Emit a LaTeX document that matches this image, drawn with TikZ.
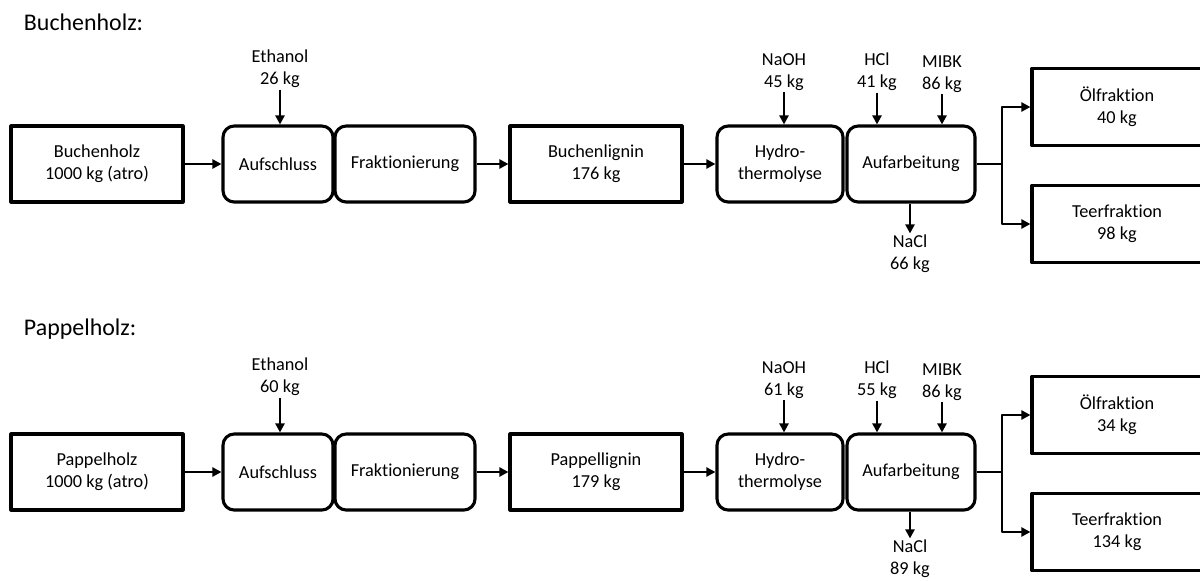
\documentclass[tikz,border=0pt]{standalone}
\usepackage{fontspec}
\setmainfont[Ligatures=NoCommon]{Carlito}
\usetikzlibrary{arrows.meta}
\begin{document}
\begin{tikzpicture}[x=0.025cm, y=-0.025cm, font=\fontsize{13}{15.6}\selectfont,
  line join=round, >={Triangle[length=6.5pt,width=6.5pt]},
  flow/.style={line width=2pt},
  box/.style={draw, line width=2.2pt, minimum height=1.9cm, inner sep=0pt, align=center},
  proc/.style={box, rounded corners=0.28cm},
  stream/.style={align=center, inner sep=1pt},
  head/.style={anchor=west, font=\fontsize{17}{20}\selectfont}]
\useasboundingbox (0,0) rectangle (1200,580);
\clip (0,0) rectangle (1200,580);
% Buchenholz
\node[head] (bhead) at (19,22) {Buchenholz:};
\node[box, minimum width=4.3cm] (bholz) at (97,164) {Buchenholz\\1000 kg (atro)};
\node[proc, minimum width=2.75cm] (baufs) at (278,164) {Aufschluss};
\node[proc, minimum width=3.5cm] (bfrak) at (405,164) {Fraktionierung};
\node[box, minimum width=4.3cm] (blig) at (596,164) {Buchenlignin\\176 kg};
\node[proc, minimum width=3.15cm] (bhyd) at (780,164) {Hydro-\\thermolyse};
\node[proc, minimum width=3.2cm] (bauf) at (911,164) {Aufarbeitung};
\node[box, minimum width=4.25cm, minimum height=1.925cm] (boel) at (1117,107) {Ölfraktion\\40 kg};
\node[box, minimum width=4.25cm, minimum height=1.925cm] (bteer) at (1117,224) {Teerfraktion\\98 kg};
\node[stream] (beth) at (280,69) {Ethanol\\26 kg};
\node[stream] (bnaoh) at (784,72) {NaOH\\45 kg};
\node[stream] (bhcl) at (877,72) {HCl\\41 kg};
\node[stream] (bmibk) at (942,74) {MIBK\\86 kg};
\node[stream] (bnacl) at (910,254) {NaCl\\66 kg};
\coordinate (bsplit) at (1002,164);
\draw[flow, ->] (bholz) -- (baufs);
\draw[flow, ->] (bfrak) -- (blig);
\draw[flow, ->] (blig) -- (bhyd);
\draw[flow, ->] (beth) -- (beth |- baufs.north);
\draw[flow, ->] (bnaoh) -- (bnaoh |- bhyd.north);
\draw[flow, ->] (bhcl) -- (bhcl |- bauf.north);
\draw[flow, ->] (bmibk) -- (bmibk |- bauf.north);
\draw[flow, ->] (bauf.south -| bnacl) -- (bnacl);
\draw[flow] (bauf.east) -- (bsplit);
\draw[flow, ->] (bsplit) |- (boel.west);
\draw[flow, ->] (bsplit) |- (bteer.west);
% Pappelholz
\node[head] (phead) at (19,329) {Pappelholz:};
\node[box, minimum width=4.3cm] (pholz) at (97,472) {Pappelholz\\1000 kg (atro)};
\node[proc, minimum width=2.75cm] (paufs) at (278,472) {Aufschluss};
\node[proc, minimum width=3.5cm] (pfrak) at (405,472) {Fraktionierung};
\node[box, minimum width=4.3cm] (plig) at (596,472) {Pappellignin\\179 kg};
\node[proc, minimum width=3.15cm] (phyd) at (780,472) {Hydro-\\thermolyse};
\node[proc, minimum width=3.2cm] (pauf) at (911,472) {Aufarbeitung};
\node[box, minimum width=4.25cm, minimum height=1.925cm] (poel) at (1117,415) {Ölfraktion\\34 kg};
\node[box, minimum width=4.25cm, minimum height=1.925cm] (pteer) at (1117,532) {Teerfraktion\\134 kg};
\node[stream] (peth) at (280,377) {Ethanol\\60 kg};
\node[stream] (pnaoh) at (784,380) {NaOH\\61 kg};
\node[stream] (phcl) at (877,380) {HCl\\55 kg};
\node[stream] (pmibk) at (942,382) {MIBK\\86 kg};
\node[stream] (pnacl) at (910,559) {NaCl\\89 kg};
\coordinate (psplit) at (1002,472);
\draw[flow, ->] (pholz) -- (paufs);
\draw[flow, ->] (pfrak) -- (plig);
\draw[flow, ->] (plig) -- (phyd);
\draw[flow, ->] (peth) -- (peth |- paufs.north);
\draw[flow, ->] (pnaoh) -- (pnaoh |- phyd.north);
\draw[flow, ->] (phcl) -- (phcl |- pauf.north);
\draw[flow, ->] (pmibk) -- (pmibk |- pauf.north);
\draw[flow, ->] (pauf.south -| pnacl) -- (pnacl);
\draw[flow] (pauf.east) -- (psplit);
\draw[flow, ->] (psplit) |- (poel.west);
\draw[flow, ->] (psplit) |- (pteer.west);
\end{tikzpicture}
\end{document}
